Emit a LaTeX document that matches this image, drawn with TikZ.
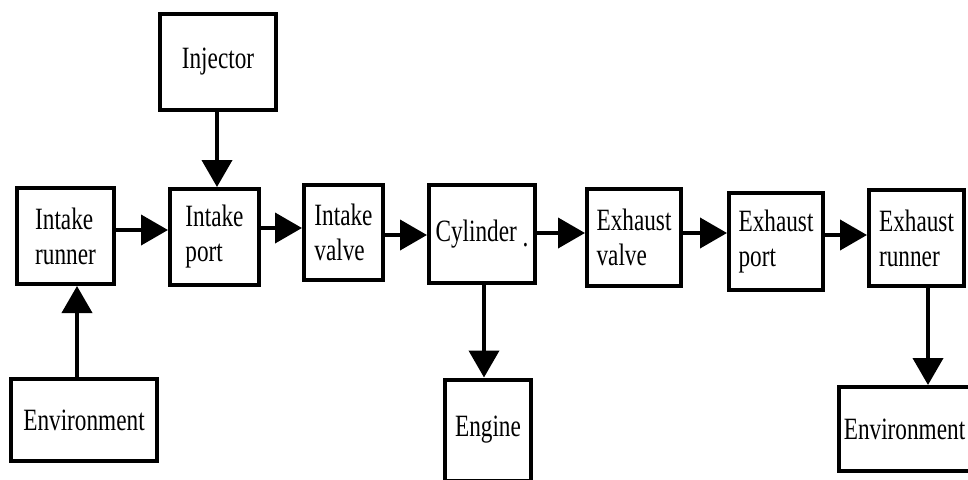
\documentclass[tikz,border=0pt]{standalone}
\usepackage{fontspec}
\setmainfont[FakeStretch=0.75]{Liberation Serif}
\usetikzlibrary{arrows.meta}
\tikzset{
  blk/.style={draw=black, line width=4pt, rectangle, inner sep=0pt, align=left,
    font=\fontsize{31pt}{35pt}\selectfont},
  flow/.style={line width=4pt, -{Triangle[length=27pt,width=30pt]}}
}
\begin{document}
\begin{tikzpicture}[x=1pt,y=-1pt]
\useasboundingbox (0,0) rectangle (968,479);
\clip (0,0) rectangle (968,479);
\node[blk, minimum width=116pt, minimum height=96pt] (inj) at (218,62) {Injector};
\node[blk, minimum width=97pt, minimum height=96pt] (irun) at (65.5,236) {Intake\\runner};
\node[blk, minimum width=89pt, minimum height=96pt] (iport) at (214.5,237) {Intake\\port};
\node[blk, minimum width=79pt, minimum height=95pt] (ivalve) at (343.5,232.5) {Intake\\valve};
\node[blk, minimum width=106pt, minimum height=98pt] (cyl) at (482,234) {Cylinder \raisebox{-5pt}{.}};
\node[blk, minimum width=86pt, minimum height=101pt] (engine) at (488,430) {Engine};
\node[blk, minimum width=94pt, minimum height=97pt] (evalve) at (634,237.5) {Exhaust\\valve};
\node[blk, minimum width=94pt, minimum height=97pt] (eport) at (776,241.5) {Exhaust\\port};
\node[blk, minimum width=95pt, minimum height=96pt] (erun) at (916.5,238) {Exhaust\\runner};
\node[blk, minimum width=146pt, minimum height=82pt] (envL) at (84,420) {Environment};
\node[blk, minimum width=131pt, minimum height=84pt] (envR) at (904.5,429) {Environment};

\draw[flow] ([xshift=-1pt]inj.south) -- ([xshift=-1pt]inj.south |- iport.north);
\draw[flow] ([xshift=-7pt]envL.north) -- ([xshift=-7pt]envL.north |- irun.south);
\draw[flow] ([yshift=6pt]irun.east) -- ([yshift=6pt]irun.east -| iport.west);
\draw[flow] ([yshift=9pt]iport.east) -- ([yshift=9pt]iport.east -| ivalve.west);
\draw[flow] ([yshift=-2.5pt]ivalve.east) -- ([yshift=-2.5pt]ivalve.east -| cyl.west);
\draw[flow] ([yshift=1pt]cyl.east) -- ([yshift=1pt]cyl.east -| evalve.west);
\draw[flow] ([yshift=4.5pt]evalve.east) -- ([yshift=4.5pt]evalve.east -| eport.west);
\draw[flow] ([yshift=6.5pt]eport.east) -- ([yshift=6.5pt]eport.east -| erun.west);
\draw[flow] ([xshift=2pt]cyl.south) -- ([xshift=2pt]cyl.south |- engine.north);
\draw[flow] ([xshift=11.5pt]erun.south) -- ([xshift=11.5pt]erun.south |- envR.north);
\end{tikzpicture}
\end{document}
